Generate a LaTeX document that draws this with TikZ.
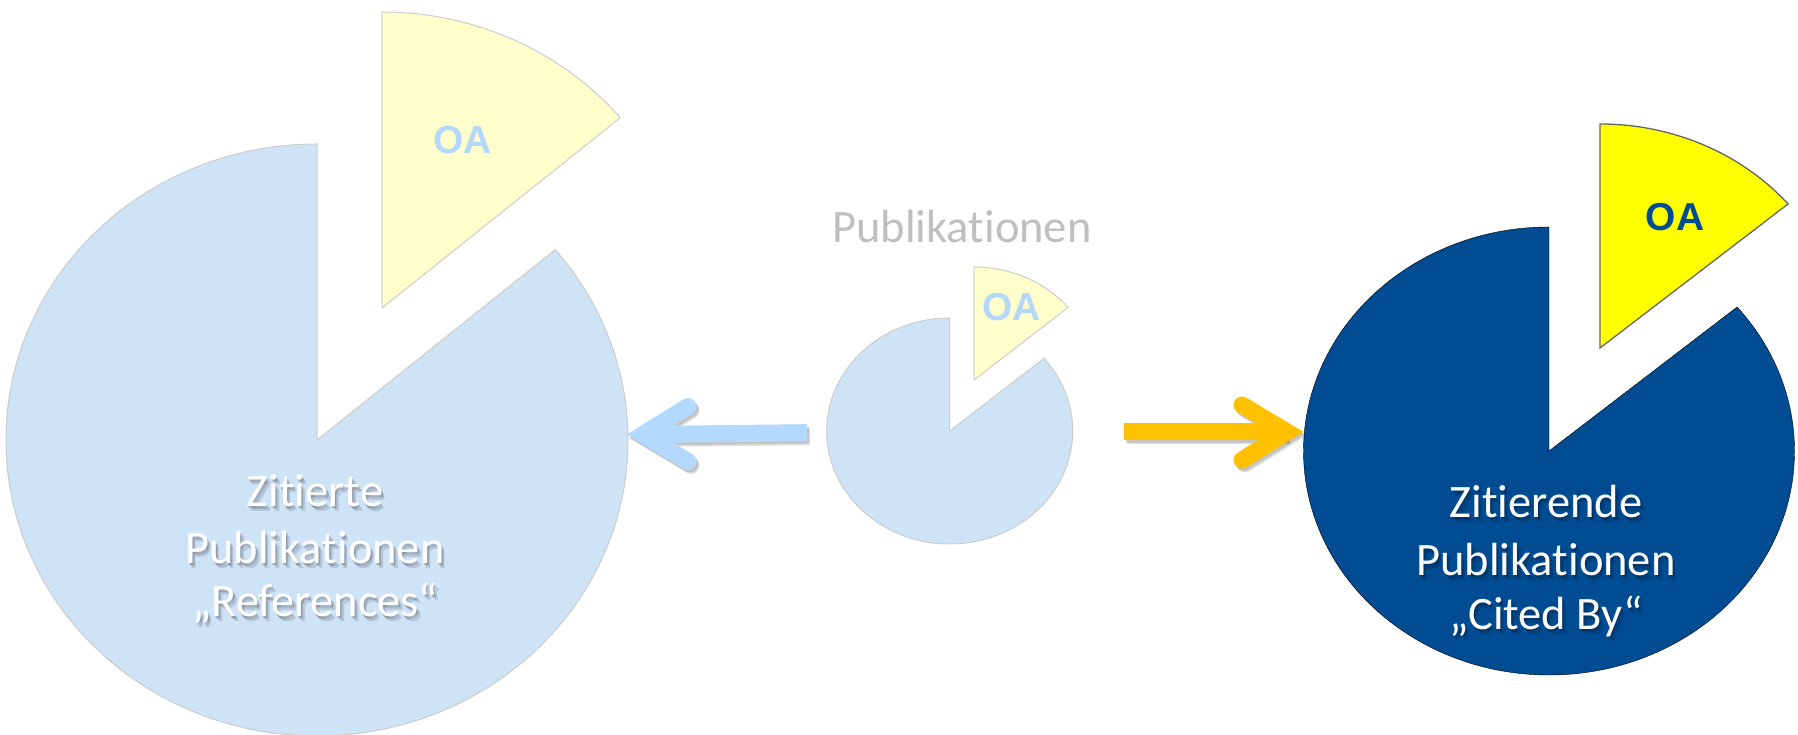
\documentclass[tikz,border=0pt]{standalone}
\usepackage{fontspec}
\setmainfont{Carlito}[Ligatures={NoCommon,NoRare,NoContextual}]
\newfontfamily\arialfont{Liberation Sans}
\definecolor{lblue}{RGB}{207,227,247}
\definecolor{lyellow}{RGB}{255,255,204}
\definecolor{dblue}{RGB}{0,76,147}
\definecolor{yel}{RGB}{255,255,0}
\definecolor{arrowblue}{RGB}{179,217,255}
\definecolor{gold}{RGB}{255,192,0}
\definecolor{oalight}{RGB}{180,215,250}
\definecolor{titlegray}{RGB}{191,191,191}
\tikzset{
  lightpie/.style={fill=lblue, draw=black!20, line width=1pt},
  lightoa/.style={fill=lyellow, draw=black!20, line width=1pt},
  darkpie/.style={fill=dblue},
  darkoa/.style={fill=yel, draw=black!60, line width=1.3pt},
  lbl/.style={font=\fontsize{46.5}{56}\selectfont, text=white, anchor=base, inner sep=0pt},
  lblshadow/.style={lbl, text=black, text opacity=0.12},
  oatxt/.style={font=\arialfont\bfseries\fontsize{39}{44}\selectfont, inner sep=0pt},
  shaft/.style={line width=17pt, line cap=butt},
  head/.style={line width=17pt, line cap=round, line join=miter, miter limit=10},
  ashadow/.style={draw=black, draw opacity=0.12},
}
\newcommand{\shadowlabel}[4]{%
  \node[lblshadow] (#1s1) at (#2+2,#3-3) {#4};
  \node[lblshadow] (#1s2) at (#2+3.5,#3-4.5) {#4};
  \node[lblshadow] (#1s3) at (#2+1,#3-1.5) {#4};
  \node[lbl] (#1) at (#2,#3) {#4};
}
\begin{document}
\begin{tikzpicture}[x=1pt,y=1pt]
\fill[white] (0,0) rectangle (1798,735);
\useasboundingbox (0,0) rectangle (1798,735);

% left pie (References)
\coordinate (refC) at (317,295);
\coordinate (refOA) at (382,427);
\draw[lightpie] (refC) -- ++(0,296) arc[start angle=90, end angle=400, x radius=311, y radius=296] -- cycle;
\draw[lightoa] (refOA) -- ++(0,296) arc[start angle=90, end angle=40, x radius=311, y radius=296] -- cycle;
\node[oatxt, text=oalight] (refOAtxt) at (462.5,595) {OA};

% middle pie
\coordinate (midC) at (949.7,304);
\coordinate (midOA) at (974,355);
\draw[lightpie] (midC) -- ++(0,113) arc[start angle=90, end angle=400, x radius=123, y radius=113] -- cycle;
\draw[lightoa] (midOA) -- ++(0,113) arc[start angle=90, end angle=40, x radius=123, y radius=113] -- cycle;
\node[oatxt, text=oalight] (midOAtxt) at (1011.7,428) {OA};
\node[lbl, text=titlegray] (midTitle) at (962,492) {Publikationen};

% right pie (Cited By)
\coordinate (citC) at (1549,284);
\coordinate (citOA) at (1600,387);
\draw[darkpie] (citC) -- ++(0,224) arc[start angle=90, end angle=400, x radius=245.5, y radius=224] -- cycle;
\draw[darkoa] (citOA) -- ++(0,224) arc[start angle=90, end angle=40, x radius=245.5, y radius=224] -- cycle;
\node[oatxt, text=dblue] (citOAtxt) at (1675,518) {OA};

% labels
\shadowlabel{refA}{315}{228}{Zitierte}
\shadowlabel{refB}{315}{171}{Publikationen}
\shadowlabel{refD}{315}{118}{„References“}
\shadowlabel{citA}{1546}{217}{Zitierende}
\shadowlabel{citB}{1546}{159}{Publikationen}
\shadowlabel{citD}{1546}{105}{„Cited By“}

% arrow coordinates
\coordinate (lStart) at (807,302.3);
\coordinate (lVertex) at (643,300.5);
\coordinate (lArmUp) at (688,328.5);
\coordinate (lArmDown) at (688,273.5);
\coordinate (rStart) at (1124,303);
\coordinate (rVertex) at (1287,303);
\coordinate (rArmUp) at (1242,330);
\coordinate (rArmDown) at (1242,275);

% arrow shadows
\foreach \dx/\dy in {3/-4, 2/-2.5} {
  \draw[shaft, ashadow] ([shift={(\dx,\dy)}]lStart) -- ([shift={(\dx,\dy)}]lVertex);
  \draw[head, ashadow] ([shift={(\dx,\dy)}]lArmUp) -- ([shift={(\dx,\dy)}]lVertex) -- ([shift={(\dx,\dy)}]lArmDown);
  \draw[shaft, ashadow] ([shift={(\dx,\dy)}]rStart) -- ([shift={(\dx,\dy)}]rVertex);
  \draw[head, ashadow] ([shift={(\dx,\dy)}]rArmUp) -- ([shift={(\dx,\dy)}]rVertex) -- ([shift={(\dx,\dy)}]rArmDown);
}
% arrows
\draw[shaft, arrowblue] (lStart) -- (lVertex);
\draw[head, arrowblue] (lArmUp) -- (lVertex) -- (lArmDown);
\draw[shaft, gold] (rStart) -- (rVertex);
\draw[head, gold] (rArmUp) -- (rVertex) -- (rArmDown);
\end{tikzpicture}
\end{document}
